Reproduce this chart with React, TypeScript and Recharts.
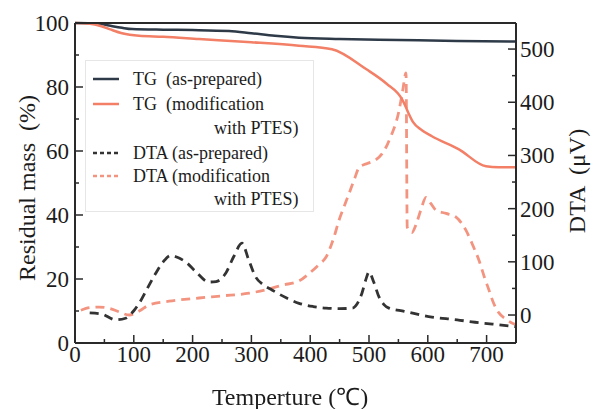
import React from "react";
import { LineChart, Line, XAxis, YAxis } from "recharts";

// temperatures (°C) and readings for each curve
const tgPrepTemp = [0, 40, 58, 80, 97, 150, 200, 262, 300, 340, 381, 450, 550, 650, 750];
const tgPrepMass = [100, 99.8, 99.2, 98.5, 98.1, 97.9, 97.8, 97.5, 96.8, 96, 95.4, 95, 94.7, 94.4, 94.2];

const tgModTemp = [0, 25, 45, 60, 80, 109, 150, 211, 300, 381, 437, 495, 530, 556, 562, 568, 575, 590, 607, 653, 699, 720, 750];
const tgModMass = [100, 99.8, 99, 98, 96.8, 96, 95.7, 95, 94, 92.9, 91.8, 85.6, 81, 76.2, 74, 71.5, 69, 66.5, 64.6, 60.5, 55.2, 54.9, 54.9];

const dtaPrepTemp = [25, 45, 69, 86, 100, 109, 123, 137, 150, 163, 175, 188, 205, 228, 240, 256, 270, 284, 295, 307, 320, 335, 360, 381, 405, 427, 450, 472, 482, 488, 495, 500, 508, 517, 525, 534, 560, 607, 650, 675, 710, 750];
const dtaPrepUv = [4, 2, -9, -6, 8, 22, 50, 78, 100, 112, 108, 100, 82, 62, 63, 78, 110, 135, 105, 72, 57, 47, 32, 22, 16, 13, 12, 13, 25, 41, 68, 81, 62, 34, 20, 13, 7, -4, -9, -13, -17, -22];

const dtaModTemp = [10, 25, 41, 60, 75, 92, 110, 126, 160, 211, 250, 296, 330, 352, 381, 398, 415, 427, 440, 449, 458, 466, 475, 483, 492, 500, 512, 522, 531, 539, 546, 551, 557, 563, 565, 573, 580, 588, 597, 605, 614, 631, 648, 665, 677, 687, 696, 704, 712, 721, 733, 743, 750];
const dtaModUv = [9, 14, 15, 12, 6, 0, 8, 19, 26, 32, 36, 41, 49, 56, 64, 78, 95, 109, 145, 178, 205, 228, 255, 277, 283, 286, 292, 303, 320, 341, 362, 384, 420, 455, 165, 155, 170, 197, 221, 210, 197, 191, 184, 159, 130, 103, 72, 47, 22, 4, -8, -15, -18];

const xTicks = [0, 50, 100, 150, 200, 250, 300, 350, 400, 450, 500, 550, 600, 650, 700, 750];
const massTicks = [0, 10, 20, 30, 40, 50, 60, 70, 80, 90, 100];
const dtaTicks = [0, 50, 100, 150, 200, 250, 300, 350, 400, 450, 500];

const zip = (t: number[], v: number[]) => t.map((x, i) => ({ t: x, v: v[i] }));

const AXIS = "#2a2a2a";
const TEXT = "#1c1c1c";
const FONT = '"Liberation Serif", "Times New Roman", serif';
const NAVY = "#2e3a48";
const SALMON = "#f27f66";
const SALMON_D = "#f39480";

const tickText = { fontFamily: FONT, fontSize: 23, fill: TEXT };

const LeftTick = (props: any) => {
  const { x, y, payload } = props;
  const v = payload.value;
  const major = v % 20 === 0;
  const ax = x + 6;
  return (
    <g>
      <line x1={ax} x2={ax + (major ? 8 : 4)} y1={y} y2={y} stroke={AXIS} strokeWidth={1.5} />
      {major && (
        <text x={x} y={y} dy="0.35em" textAnchor="end" style={tickText}>
          {v}
        </text>
      )}
    </g>
  );
};

const RightTick = (props: any) => {
  const { x, y, payload } = props;
  const v = payload.value;
  const major = v % 100 === 0;
  const ax = x - 4;
  return (
    <g>
      <line x1={ax} x2={ax - (major ? 8 : 4)} y1={y} y2={y} stroke={AXIS} strokeWidth={1.5} />
      {major && (
        <text x={x} y={y} dy="0.35em" textAnchor="start" style={tickText}>
          {v}
        </text>
      )}
    </g>
  );
};

const BottomTick = (props: any) => {
  const { x, y, payload } = props;
  const v = payload.value;
  const major = v % 100 === 0;
  const ay = y - 3;
  return (
    <g>
      <line x1={x} x2={x} y1={ay} y2={ay - (major ? 8 : 4)} stroke={AXIS} strokeWidth={1.5} />
      {major && (
        <text x={x} y={y} dy="0.71em" textAnchor="middle" style={tickText}>
          {v}
        </text>
      )}
    </g>
  );
};

const TopTick = (props: any) => {
  const { x, y, payload } = props;
  const major = payload.value % 100 === 0;
  return <line x1={x} x2={x} y1={y} y2={y + (major ? 8 : 4)} stroke={AXIS} strokeWidth={1.5} />;
};

const legendRows = [
  { label: "TG  (as-prepared)", color: NAVY, dash: undefined, y: 18 },
  { label: "TG  (modification", color: SALMON, dash: undefined, y: 43 },
  { label: "DTA (as-prepared)", color: "#333", dash: "4 3", y: 92 },
  { label: "DTA (modification", color: SALMON_D, dash: "4 3", y: 115 },
];

const Legend = () => (
  <div
    style={{
      position: "absolute",
      left: 85,
      top: 60,
      width: 227,
      height: 150,
      border: "1px solid #e6e6e6",
      background: "#fff",
      fontFamily: FONT,
      fontSize: 18,
      color: TEXT,
    }}
  >
    <svg width={227} height={150} style={{ position: "absolute", left: 0, top: 0 }}>
      {legendRows.map((r) => (
        <line key={r.label} x1={7} x2={33} y1={r.y} y2={r.y} stroke={r.color} strokeWidth={2.5} strokeDasharray={r.dash} />
      ))}
    </svg>
    {legendRows.map((r) => (
      <div key={r.label} style={{ position: "absolute", left: 47, top: r.y - 11, lineHeight: "22px", whiteSpace: "pre" }}>
        {r.label}
      </div>
    ))}
    {[67, 138].map((y) => (
      <div key={y} style={{ position: "absolute", left: 128, top: y - 11, lineHeight: "22px", whiteSpace: "pre" }}>
        with PTES)
      </div>
    ))}
  </div>
);

export default function App() {
  return (
    <div style={{ position: "fixed", left: 0, top: 0, width: 599, height: 409, background: "#fff" }}>
      <LineChart width={599} height={409} margin={{ top: 22, right: 0, bottom: 0, left: 0 }}>
        <XAxis
          xAxisId="x"
          dataKey="t"
          type="number"
          domain={[0, 750]}
          ticks={xTicks}
          height={66}
          tickSize={0}
          tickMargin={3}
          tickLine={false}
          axisLine={{ stroke: AXIS, strokeWidth: 2 }}
          tick={<BottomTick />}
          interval={0}
          allowDataOverflow
        />
        <XAxis
          xAxisId="top"
          orientation="top"
          type="number"
          domain={[0, 750]}
          ticks={xTicks}
          height={1}
          tickSize={0}
          tickMargin={0}
          tickLine={false}
          axisLine={{ stroke: AXIS, strokeWidth: 2 }}
          tick={<TopTick />}
          interval={0}
        />
        <YAxis
          yAxisId="mass"
          type="number"
          domain={[0, 100]}
          ticks={massTicks}
          width={75}
          tickSize={0}
          tickMargin={6}
          tickLine={false}
          axisLine={{ stroke: AXIS, strokeWidth: 2 }}
          tick={<LeftTick />}
          interval={0}
        />
        <YAxis
          yAxisId="dta"
          orientation="right"
          type="number"
          domain={[-52.6, 549]}
          ticks={dtaTicks}
          width={83}
          tickSize={0}
          tickMargin={4}
          tickLine={false}
          axisLine={{ stroke: AXIS, strokeWidth: 2 }}
          tick={<RightTick />}
          interval={0}
          allowDataOverflow
        />
        <Line
          xAxisId="x"
          yAxisId="dta"
          data={zip(dtaModTemp, dtaModUv)}
          dataKey="v"
          type="monotone"
          stroke={SALMON_D}
          strokeWidth={2.8}
          strokeDasharray="9 6"
          dot={false}
          isAnimationActive={false}
        />
        <Line
          xAxisId="x"
          yAxisId="dta"
          data={zip(dtaPrepTemp, dtaPrepUv)}
          dataKey="v"
          type="monotone"
          stroke="#333"
          strokeWidth={2.8}
          strokeDasharray="9 6"
          dot={false}
          isAnimationActive={false}
        />
        <Line
          xAxisId="x"
          yAxisId="mass"
          data={zip(tgPrepTemp, tgPrepMass)}
          dataKey="v"
          type="monotone"
          stroke={NAVY}
          strokeWidth={2.5}
          dot={false}
          isAnimationActive={false}
        />
        <Line
          xAxisId="x"
          yAxisId="mass"
          data={zip(tgModTemp, tgModMass)}
          dataKey="v"
          type="monotone"
          stroke={SALMON}
          strokeWidth={2.5}
          dot={false}
          isAnimationActive={false}
        />
      </LineChart>
      <Legend />
      <div
        style={{
          position: "absolute",
          left: 27,
          top: 188,
          transform: "translate(-50%, -50%) rotate(-90deg)",
          whiteSpace: "pre",
          fontFamily: FONT,
          fontSize: 24,
          color: TEXT,
        }}
      >
        Residual mass  (%)
      </div>
      <div
        style={{
          position: "absolute",
          left: 577,
          top: 181,
          transform: "translate(-50%, -50%) rotate(-90deg)",
          whiteSpace: "pre",
          fontFamily: FONT,
          fontSize: 24,
          color: TEXT,
        }}
      >
        DTA  (μV)
      </div>
      <div
        style={{
          position: "absolute",
          left: 290,
          top: 395,
          transform: "translate(-50%, -50%)",
          whiteSpace: "pre",
          fontFamily: FONT,
          fontSize: 24,
          color: TEXT,
        }}
      >
        Temperture (℃)
      </div>
    </div>
  );
}
